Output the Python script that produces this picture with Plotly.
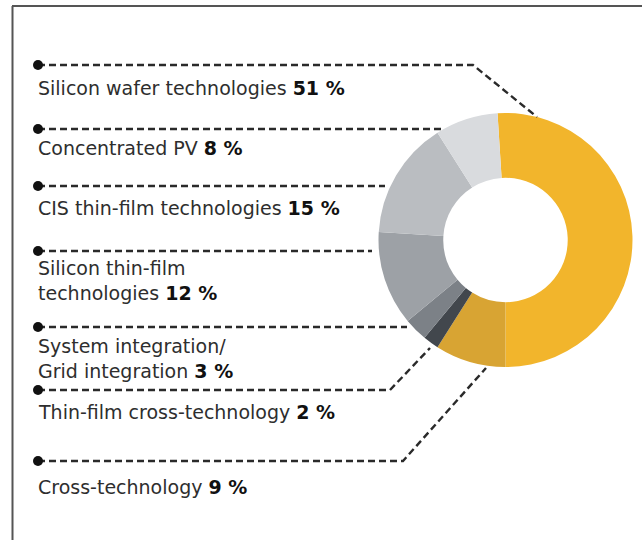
import plotly.graph_objects as go

# ---- data ----
categories = ["Silicon wafer technologies", "Cross-technology", "Thin-film cross-technology",
              "System integration/<br>Grid integration", "Silicon thin-film<br>technologies",
              "CIS thin-film technologies", "Concentrated PV"]
shares = [51, 9, 2, 3, 12, 15, 8]
colors = ["#F2B52C", "#D8A433", "#42474D", "#7C8187", "#9DA1A6", "#BABDC1", "#D9DBDE"]

# label order on the left (top to bottom)
label_order = [0, 6, 5, 4, 3, 2, 1]

W, H = 642, 540
fig = go.Figure()

# donut
cx, cy, R = 505.5, 240, 127
fig.add_trace(go.Pie(
    values=shares, labels=[c.replace("<br>", " ") for c in categories],
    marker=dict(colors=colors, line=dict(width=0)),
    hole=0.49, sort=False, direction="clockwise", rotation=-3.6,
    textinfo="none", showlegend=False,
    domain=dict(x=[(cx - R) / W, (cx + R) / W], y=[(H - cy - R) / H, (H - cy + R) / H]),
))

# layout positions of labels / leaders (pixel space, y from top)
text_y = [88, 148, 208, 280, 358, 412, 487]
leader_y = [65, 129, 186, 251, 327, 390, 461]
leader_paths = [
    [(473, 65), (537, 117)],
    [(442, 129)],
    [(385, 186)],
    [(372, 251)],
    [(407, 327)],
    [(390, 390), (430, 348)],
    [(403, 461), (486, 368)],
]
dot_x = 38
text_x = 36

shapes = []
annotations = []
for k, idx in enumerate(label_order):
    ly = leader_y[k]
    pts = [(dot_x, ly)] + leader_paths[k]
    path = "M " + " L ".join(f"{x},{y}" for x, y in pts)
    shapes.append(dict(type="path", path=path, xref="x", yref="y",
                       line=dict(color="#2a2a2a", width=2.4, dash="7px,4px")))
    shapes.append(dict(type="circle", xref="x", yref="y",
                       x0=dot_x - 5, x1=dot_x + 5, y0=ly - 5, y1=ly + 5,
                       fillcolor="#111111", line=dict(width=0)))
    annotations.append(dict(
        x=text_x, y=text_y[k], xref="x", yref="y", xanchor="left", yanchor="middle",
        align="left", showarrow=False,
        text=f"{categories[idx]} <b style='color:#111'>{shares[idx]} %</b>",
        font=dict(family="DejaVu Sans", size=19, color="#2e2e2e"),
    ))

# frame
shapes.append(dict(type="line", xref="x", yref="y", x0=12.5, x1=12.5, y0=6, y1=540,
                   line=dict(color="#555555", width=2)))
shapes.append(dict(type="line", xref="x", yref="y", x0=12, x1=642, y0=6, y1=6,
                   line=dict(color="#555555", width=2)))

fig.update_layout(
    width=W, height=H, margin=dict(l=0, r=0, t=0, b=0),
    paper_bgcolor="white", plot_bgcolor="rgba(0,0,0,0)",
    xaxis=dict(range=[0, W], visible=False, fixedrange=True),
    yaxis=dict(range=[H, 0], visible=False, fixedrange=True),
    shapes=shapes, annotations=annotations,
)

fig.write_html("out.html", config={"displayModeBar": False},
               post_script="document.body.style.margin='0px';")
